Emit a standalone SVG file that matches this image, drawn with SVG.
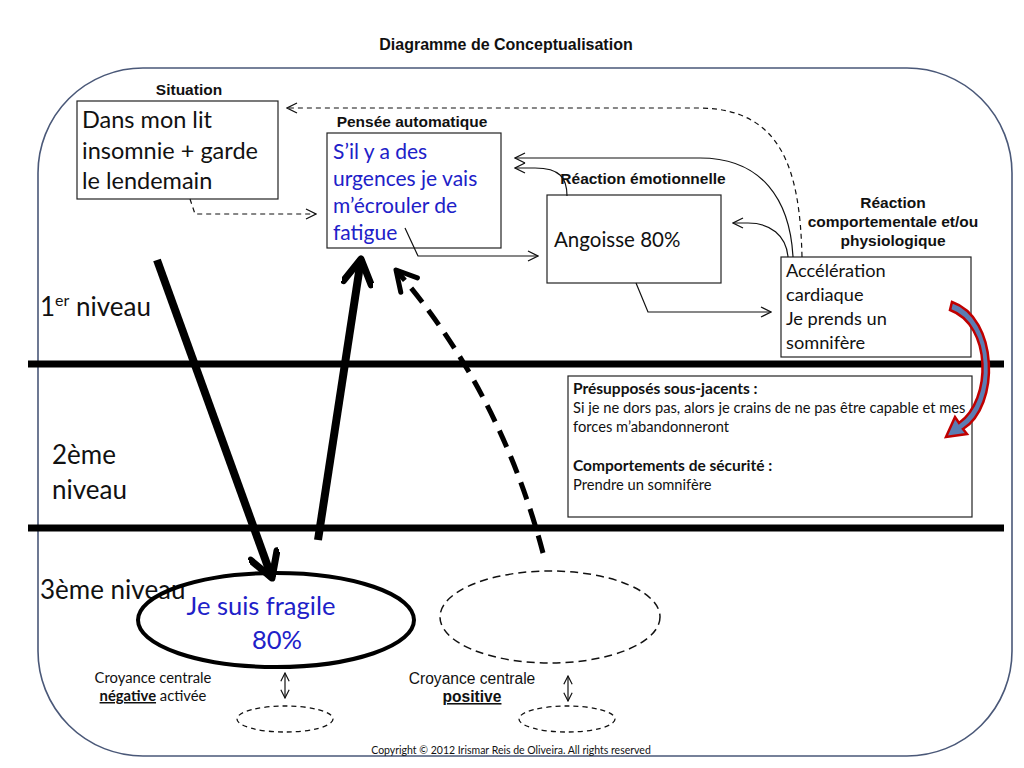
<svg xmlns="http://www.w3.org/2000/svg" width="1024" height="768" viewBox="0 0 1024 768">
<style>
.lbl{font-family:"Liberation Sans",Arial,sans-serif;font-weight:bold;font-size:15.5px;fill:#111;text-anchor:middle}
.cal{font-family:Lato,"Open Sans",sans-serif;fill:#111}
.blue{font-family:Lato,"Open Sans",sans-serif;fill:#2020c8}
.box{fill:#fff;stroke:#222;stroke-width:1.2}
.thin{fill:none;stroke:#111;stroke-width:1.2}
.thind{fill:none;stroke:#111;stroke-width:1.2;stroke-dasharray:5 4}
.thick{fill:none;stroke:#000;stroke-width:8}
.band{stroke:#000;stroke-width:7}
</style>
<defs>
<marker id="ah" viewBox="0 0 12 12" refX="11" refY="6" markerWidth="12" markerHeight="12" markerUnits="userSpaceOnUse" orient="auto">
<path d="M1,1 L11,6 L1,11" fill="none" stroke="#111" stroke-width="1.3"/>
</marker>
<marker id="ah2" viewBox="0 0 12 12" refX="11" refY="6" markerWidth="10" markerHeight="10" markerUnits="userSpaceOnUse" orient="auto-start-reverse">
<path d="M1,1 L11,6 L1,11" fill="none" stroke="#111" stroke-width="1.4"/>
</marker>
<marker id="big" viewBox="0 0 32 32" refX="28" refY="16" markerWidth="32" markerHeight="32" markerUnits="userSpaceOnUse" orient="auto">
<path d="M4,2 L28,16 L4,30" fill="none" stroke="#000" stroke-width="7" stroke-linecap="round" stroke-linejoin="round"/>
</marker>
<marker id="bigd" viewBox="0 0 28 28" refX="25" refY="14" markerWidth="28" markerHeight="28" markerUnits="userSpaceOnUse" orient="auto">
<path d="M5,3 L25,14 L5,25" fill="none" stroke="#000" stroke-width="5" stroke-linecap="round" stroke-linejoin="round"/>
</marker>
</defs>
<rect width="1024" height="768" fill="#fff"/>
<text x="506" y="50" class="lbl" style="font-size:16px">Diagramme de Conceptualisation</text>
<rect x="38" y="68" width="974" height="688" rx="105" ry="105" fill="none" stroke="#4a5878" stroke-width="1.6"/>
<g id="levels">
<line x1="28" y1="364" x2="1004" y2="364" class="band"/>
<line x1="28" y1="528" x2="1004" y2="528" class="band"/>
<text x="40" y="316" class="cal" font-size="26">1<tspan font-size="16" dy="-10">er</tspan><tspan dy="10"> niveau</tspan></text>
<text x="52" y="464" class="cal" font-size="26">2ème</text>
<text x="52" y="499" class="cal" font-size="26">niveau</text>
<text x="40" y="599" class="cal" font-size="26">3ème niveau</text>
</g>
<g id="situation">
<text x="189" y="95" class="lbl">Situation</text>
<rect x="77" y="101" width="201" height="98" class="box"/>
<text class="cal" font-size="23.5"><tspan x="82" y="128">Dans mon lit</tspan><tspan x="82" y="159">insomnie + garde</tspan><tspan x="82" y="189">le lendemain</tspan></text>
</g>
<g id="pensee">
<text x="412" y="127" class="lbl">Pensée automatique</text>
<rect x="327" y="133" width="174" height="115" class="box"/>
<text class="blue" font-size="21"><tspan x="333" y="159">S’il y a des</tspan><tspan x="333" y="186">urgences je vais</tspan><tspan x="333" y="213">m’écrouler de</tspan><tspan x="333" y="240">fatigue</tspan></text>
</g>
<g id="emotion">
<text x="643" y="184" class="lbl">Réaction émotionnelle</text>
<rect x="547" y="195" width="174" height="88" class="box"/>
<text x="554" y="247" class="cal" font-size="20.5">Angoisse 80%</text>
</g>
<g id="comportement">
<text class="lbl"><tspan x="893" y="208">Réaction</tspan><tspan x="893" y="227">comportementale et/ou</tspan><tspan x="893" y="246">physiologique</tspan></text>
<rect x="781" y="257" width="190" height="100" class="box"/>
<text class="cal" font-size="18.2"><tspan x="786" y="277">Accélération</tspan><tspan x="786" y="301">cardiaque</tspan><tspan x="786" y="325">Je prends un</tspan><tspan x="786" y="349">somnifère</tspan></text>
</g>
<g id="presupposes">
<rect x="568" y="376" width="404" height="141" class="box"/>
<text class="cal" font-size="14.7"><tspan x="573" y="394" font-weight="bold" font-size="15.5">Présupposés sous-jacents :</tspan><tspan x="573" y="413">Si je ne dors pas, alors je crains de ne pas être capable et mes</tspan><tspan x="573" y="432">forces m’abandonneront</tspan><tspan x="573" y="471" font-weight="bold" font-size="15.5">Comportements de sécurité :</tspan><tspan x="573" y="490">Prendre un somnifère</tspan></text>
</g>
<g id="croyance-negative">
<ellipse cx="276" cy="620" rx="138" ry="47" fill="none" stroke="#000" stroke-width="4"/>
<text x="261" y="615" class="blue" font-size="25.5" text-anchor="middle">Je suis fragile</text>
<text x="277" y="649" class="blue" font-size="25.5" text-anchor="middle">80%</text>
<text x="153" y="683" class="cal" font-size="14.8" text-anchor="middle">Croyance centrale</text>
<text x="153" y="701" class="cal" font-size="14.8" text-anchor="middle"><tspan font-weight="bold" text-decoration="underline">négative</tspan> activée</text>
<ellipse cx="285" cy="719" rx="48" ry="13" fill="none" stroke="#111" stroke-width="1.3" stroke-dasharray="5 4"/>
</g>
<g id="croyance-positive">
<ellipse cx="550" cy="617" rx="110" ry="46" fill="none" stroke="#111" stroke-width="1.5" stroke-dasharray="8 5"/>
<text x="472" y="684" font-family="Liberation Sans,Arial,sans-serif" font-size="15.6" fill="#111" text-anchor="middle">Croyance centrale</text>
<text x="472" y="702" font-family="Liberation Sans,Arial,sans-serif" font-size="15.6" font-weight="bold" fill="#111" text-anchor="middle" text-decoration="underline">positive</text>
<ellipse cx="567" cy="719" rx="48" ry="13" fill="none" stroke="#111" stroke-width="1.3" stroke-dasharray="5 4"/>
</g>
<g id="connectors">
<path d="M190,199 L195,214 L316,214" class="thind" marker-end="url(#ah)"/>
<path d="M802,257 C800,170 782,109 700,108 L287,108" class="thind" marker-end="url(#ah)"/>
<path d="M793,257 C790,200 762,158 700,158 L515,158" class="thin" marker-end="url(#ah)"/>
<path d="M567,196 C567,178 560,168 535,168 L515,168" class="thin" marker-end="url(#ah)"/>
<path d="M788,257 C786,235 770,223 748,223 L733,223" class="thin" marker-end="url(#ah)"/>
<path d="M405,228 L418,256 L538,256" class="thin" marker-end="url(#ah)"/>
<path d="M636,283 L648,312 L771,312" class="thin" marker-end="url(#ah)"/>
<line x1="285" y1="673" x2="285" y2="698" class="thin" marker-start="url(#ah2)" marker-end="url(#ah2)"/>
<line x1="568" y1="676" x2="568" y2="701" class="thin" marker-start="url(#ah2)" marker-end="url(#ah2)"/>
<line x1="157" y1="260" x2="272" y2="578" class="thick" marker-end="url(#big)"/>
<line x1="318" y1="540" x2="361" y2="259" class="thick" marker-end="url(#big)"/>
<path d="M543,553 Q500,390 396,270" fill="none" stroke="#000" stroke-width="5" stroke-dasharray="18 10" marker-end="url(#bigd)"/>
<path d="M952,302 C998.5,318 1000,406 963,429 L967,434 L946,437 L955,417 L959,423 C992,400 991.5,325 950,310 Z" fill="#5b7db3" stroke="#c00000" stroke-width="2.5" stroke-linejoin="miter"/>
</g>
<text x="511" y="754" class="cal" font-size="10.5" text-anchor="middle">Copyright © 2012 Irismar Reis de Oliveira. All rights reserved</text>
</svg>
